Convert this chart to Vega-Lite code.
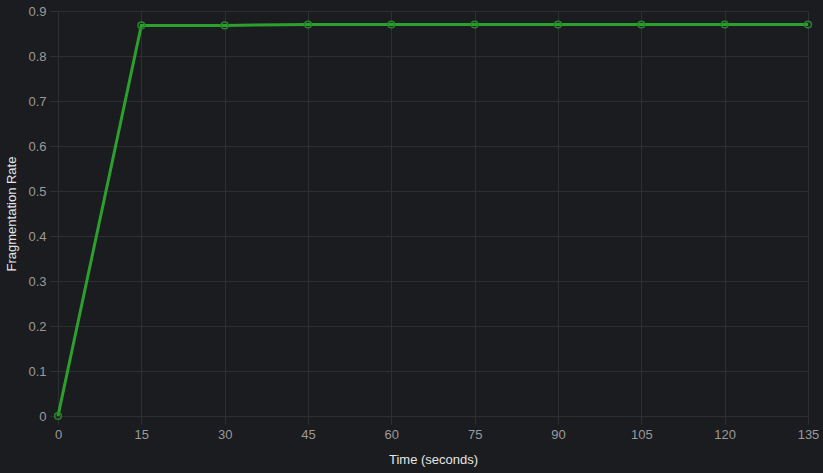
{
  "$schema": "https://vega.github.io/schema/vega-lite/v6.json",
  "autosize": "none",
  "padding": {"left": 58, "top": 11, "right": 15, "bottom": 57},
  "width": 750,
  "height": 405,
  "background": "#1b1c1f",
  "config": {
    "view": {"stroke": null},
    "font": "Liberation Sans",
    "axis": {
      "domain": false,
      "gridColor": "#2e2f33",
      "tickColor": "#2e2f33",
      "tickSize": 8,
      "labelColor": "#9a9a9a",
      "labelFontSize": 13,
      "labelPadding": 4,
      "titleColor": "#e6e6e6",
      "titleFontSize": 13,
      "titleFontWeight": "normal"
    }
  },
  "data": {
    "values": [
      {"t": 0, "rate": 0},
      {"t": 15, "rate": 0.868},
      {"t": 30, "rate": 0.868},
      {"t": 45, "rate": 0.870},
      {"t": 60, "rate": 0.870},
      {"t": 75, "rate": 0.870},
      {"t": 90, "rate": 0.870},
      {"t": 105, "rate": 0.870},
      {"t": 120, "rate": 0.870},
      {"t": 135, "rate": 0.870}
    ]
  },
  "encoding": {
    "x": {
      "field": "t", "type": "quantitative",
      "scale": {"domain": [0, 135], "nice": false, "zero": false},
      "axis": {"values": [0, 15, 30, 45, 60, 75, 90, 105, 120, 135], "title": "Time (seconds)", "titlePadding": 12, "labelFlush": false}
    },
    "y": {
      "field": "rate", "type": "quantitative",
      "scale": {"domain": [0, 0.9], "nice": false},
      "axis": {"values": [0, 0.1, 0.2, 0.3, 0.4, 0.5, 0.6, 0.7, 0.8, 0.9], "format": "~g", "title": "Fragmentation Rate", "titlePadding": 9, "labelFlush": false}
    }
  },
  "layer": [
    {"mark": {"type": "line", "color": "#2ca02c", "strokeWidth": 3}},
    {"mark": {"type": "point", "filled": false, "color": "#23862a", "strokeWidth": 1.5, "size": 45, "opacity": 1}}
  ]
}
